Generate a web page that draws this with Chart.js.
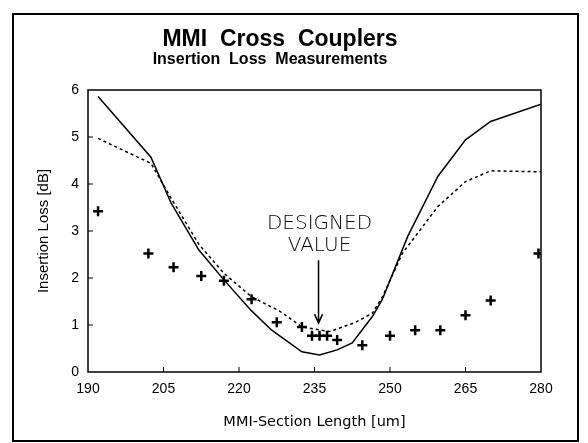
<!DOCTYPE html>
<html>
<head>
<meta charset="utf-8">
<script src="https://cdn.jsdelivr.net/npm/chart.js@4.4.1/dist/chart.umd.min.js"></script>
<style>
  html, body { margin: 0; padding: 0; background: #fff; }
  #wrap { width: 588px; height: 443px; }
</style>
</head>
<body>
<div id="wrap"><canvas id="chart"></canvas></div>
<script>
// MMI section length [um] and insertion loss [dB]
const solidX = [192, 202.5, 206.5, 212, 217, 222.5, 226.5, 232.5, 236, 239.5, 242.5, 246.5, 248.5, 253.5, 259.5, 265, 270, 280];
const solidY = [5.86, 4.57, 3.6, 2.6, 1.96, 1.3, 0.89, 0.43, 0.36, 0.47, 0.62, 1.18, 1.55, 2.88, 4.16, 4.94, 5.33, 5.7];

const dashX = [192, 202.5, 206.5, 212, 217, 222.5, 228, 232.5, 238, 243, 246.5, 248.5, 252.5, 259.5, 265, 270, 280];
const dashY = [4.97, 4.44, 3.7, 2.72, 2.1, 1.6, 1.3, 0.96, 0.86, 1.05, 1.25, 1.6, 2.53, 3.52, 4.05, 4.28, 4.26];

const measX = [192, 202, 207, 212.5, 217, 222.5, 227.5, 232.5, 234.5, 236, 237.5, 239.5, 244.5, 250, 255, 260, 265, 270, 279.5];
const measY = [3.42, 2.52, 2.23, 2.04, 1.94, 1.55, 1.06, 0.96, 0.77, 0.77, 0.77, 0.68, 0.57, 0.77, 0.89, 0.89, 1.21, 1.52, 2.52];

const xTicks = [190, 205, 220, 235, 250, 265, 280];
const yTicks = [0, 1, 2, 3, 4, 5, 6];

const titleText = 'MMI  Cross  Couplers';
const subtitleText = 'Insertion  Loss  Measurements';
const noteLines = ['DESIGNED', 'VALUE'];

function pts(xs, ys) {
    return xs.map((x, i) => ({ x: x, y: ys[i] }));
}

// frame, inner ticks, titles and the "designed value" note
const decorPlugin = {
    id: 'decor',
    afterDraw(chart) {
        const ctx = chart.ctx;
        const a = chart.chartArea;
        const xs = chart.scales.x;
        const ys = chart.scales.y;
        ctx.save();
        ctx.strokeStyle = '#000';

        // outer frame
        ctx.lineWidth = 2;
        ctx.strokeRect(13, 14, 565, 427);

        // plot box
        ctx.lineWidth = 1.5;
        ctx.strokeRect(a.left, a.top, a.right - a.left, a.bottom - a.top);

        // inward ticks
        ctx.lineWidth = 1;
        ctx.beginPath();
        xTicks.slice(1, -1).forEach(v => {
            const px = xs.getPixelForValue(v);
            ctx.moveTo(px, a.bottom);
            ctx.lineTo(px, a.bottom - 5);
        });
        yTicks.slice(1, -1).forEach(v => {
            const py = ys.getPixelForValue(v);
            ctx.moveTo(a.left, py);
            ctx.lineTo(a.left + 5, py);
        });
        ctx.stroke();

        // titles
        ctx.fillStyle = '#000';
        ctx.textAlign = 'center';
        ctx.textBaseline = 'middle';
        ctx.font = 'bold 23px "Liberation Sans", Arial, sans-serif';
        ctx.fillText(titleText, 280, 40);
        ctx.font = 'bold 16px "Liberation Sans", Arial, sans-serif';
        ctx.fillText(subtitleText, 270, 60);

        // note + arrow
        ctx.font = '200 20px "DejaVu Sans", sans-serif';
        ctx.fillText(noteLines[0], xs.getPixelForValue(236), ys.getPixelForValue(3.15));
        ctx.fillText(noteLines[1], xs.getPixelForValue(236), ys.getPixelForValue(2.68));
        const ax = xs.getPixelForValue(235.8);
        const ay0 = ys.getPixelForValue(2.38);
        const ay1 = ys.getPixelForValue(1.04);
        ctx.lineWidth = 1.5;
        ctx.beginPath();
        ctx.moveTo(ax, ay0);
        ctx.lineTo(ax, ay1);
        ctx.moveTo(ax - 4, ay1 - 9);
        ctx.lineTo(ax, ay1);
        ctx.lineTo(ax + 4, ay1 - 9);
        ctx.stroke();
        ctx.restore();
    }
};

new Chart(document.getElementById('chart'), {
    type: 'scatter',
    data: {
        datasets: [{
            label: 'solid',
            type: 'line',
            data: pts(solidX, solidY),
            borderColor: '#000',
            borderWidth: 1.5,
            pointRadius: 0,
            tension: 0,
            fill: false
        }, {
            label: 'dashed',
            type: 'line',
            data: pts(dashX, dashY),
            borderColor: '#000',
            borderWidth: 1.5,
            borderDash: [3, 3],
            pointRadius: 0,
            tension: 0,
            fill: false
        }, {
            label: 'measured',
            data: pts(measX, measY),
            pointStyle: 'cross',
            pointRadius: 5,
            borderWidth: 2.5,
            borderColor: '#000',
            backgroundColor: '#000'
        }]
    },
    options: {
        responsive: true,
        maintainAspectRatio: false,
        animation: false,
        layout: { padding: { top: 90, left: 0, right: 47, bottom: 0 } },
        plugins: {
            legend: { display: false },
            tooltip: { enabled: false }
        },
        scales: {
            x: {
                type: 'linear',
                min: 190,
                max: 280,
                afterFit: s => { s.height = 71; },
                afterBuildTicks: s => { s.ticks = xTicks.map(v => ({ value: v })); },
                grid: { display: false, drawTicks: false },
                border: { display: false },
                ticks: {
                    padding: 9,
                    color: '#000',
                    font: { family: '"Liberation Sans", Arial, sans-serif', size: 14 }
                },
                title: {
                    display: true,
                    text: 'MMI-Section Length [um]',
                    color: '#000',
                    padding: { top: 4, bottom: 12 },
                    font: { family: '"DejaVu Sans", sans-serif', size: 14.5 }
                }
            },
            y: {
                min: 0,
                max: 6,
                afterFit: s => { s.width = 88; },
                afterBuildTicks: s => { s.ticks = yTicks.map(v => ({ value: v })); },
                grid: { display: false, drawTicks: false },
                border: { display: false },
                ticks: {
                    padding: 9,
                    color: '#000',
                    font: { family: '"Liberation Sans", Arial, sans-serif', size: 14 }
                },
                title: {
                    display: true,
                    text: 'Insertion Loss [dB]',
                    color: '#000',
                    padding: { top: 35, bottom: 0 },
                    font: { family: '"Liberation Sans", Arial, sans-serif', size: 15 }
                }
            }
        }
    },
    plugins: [decorPlugin]
});
</script>
</body>
</html>
